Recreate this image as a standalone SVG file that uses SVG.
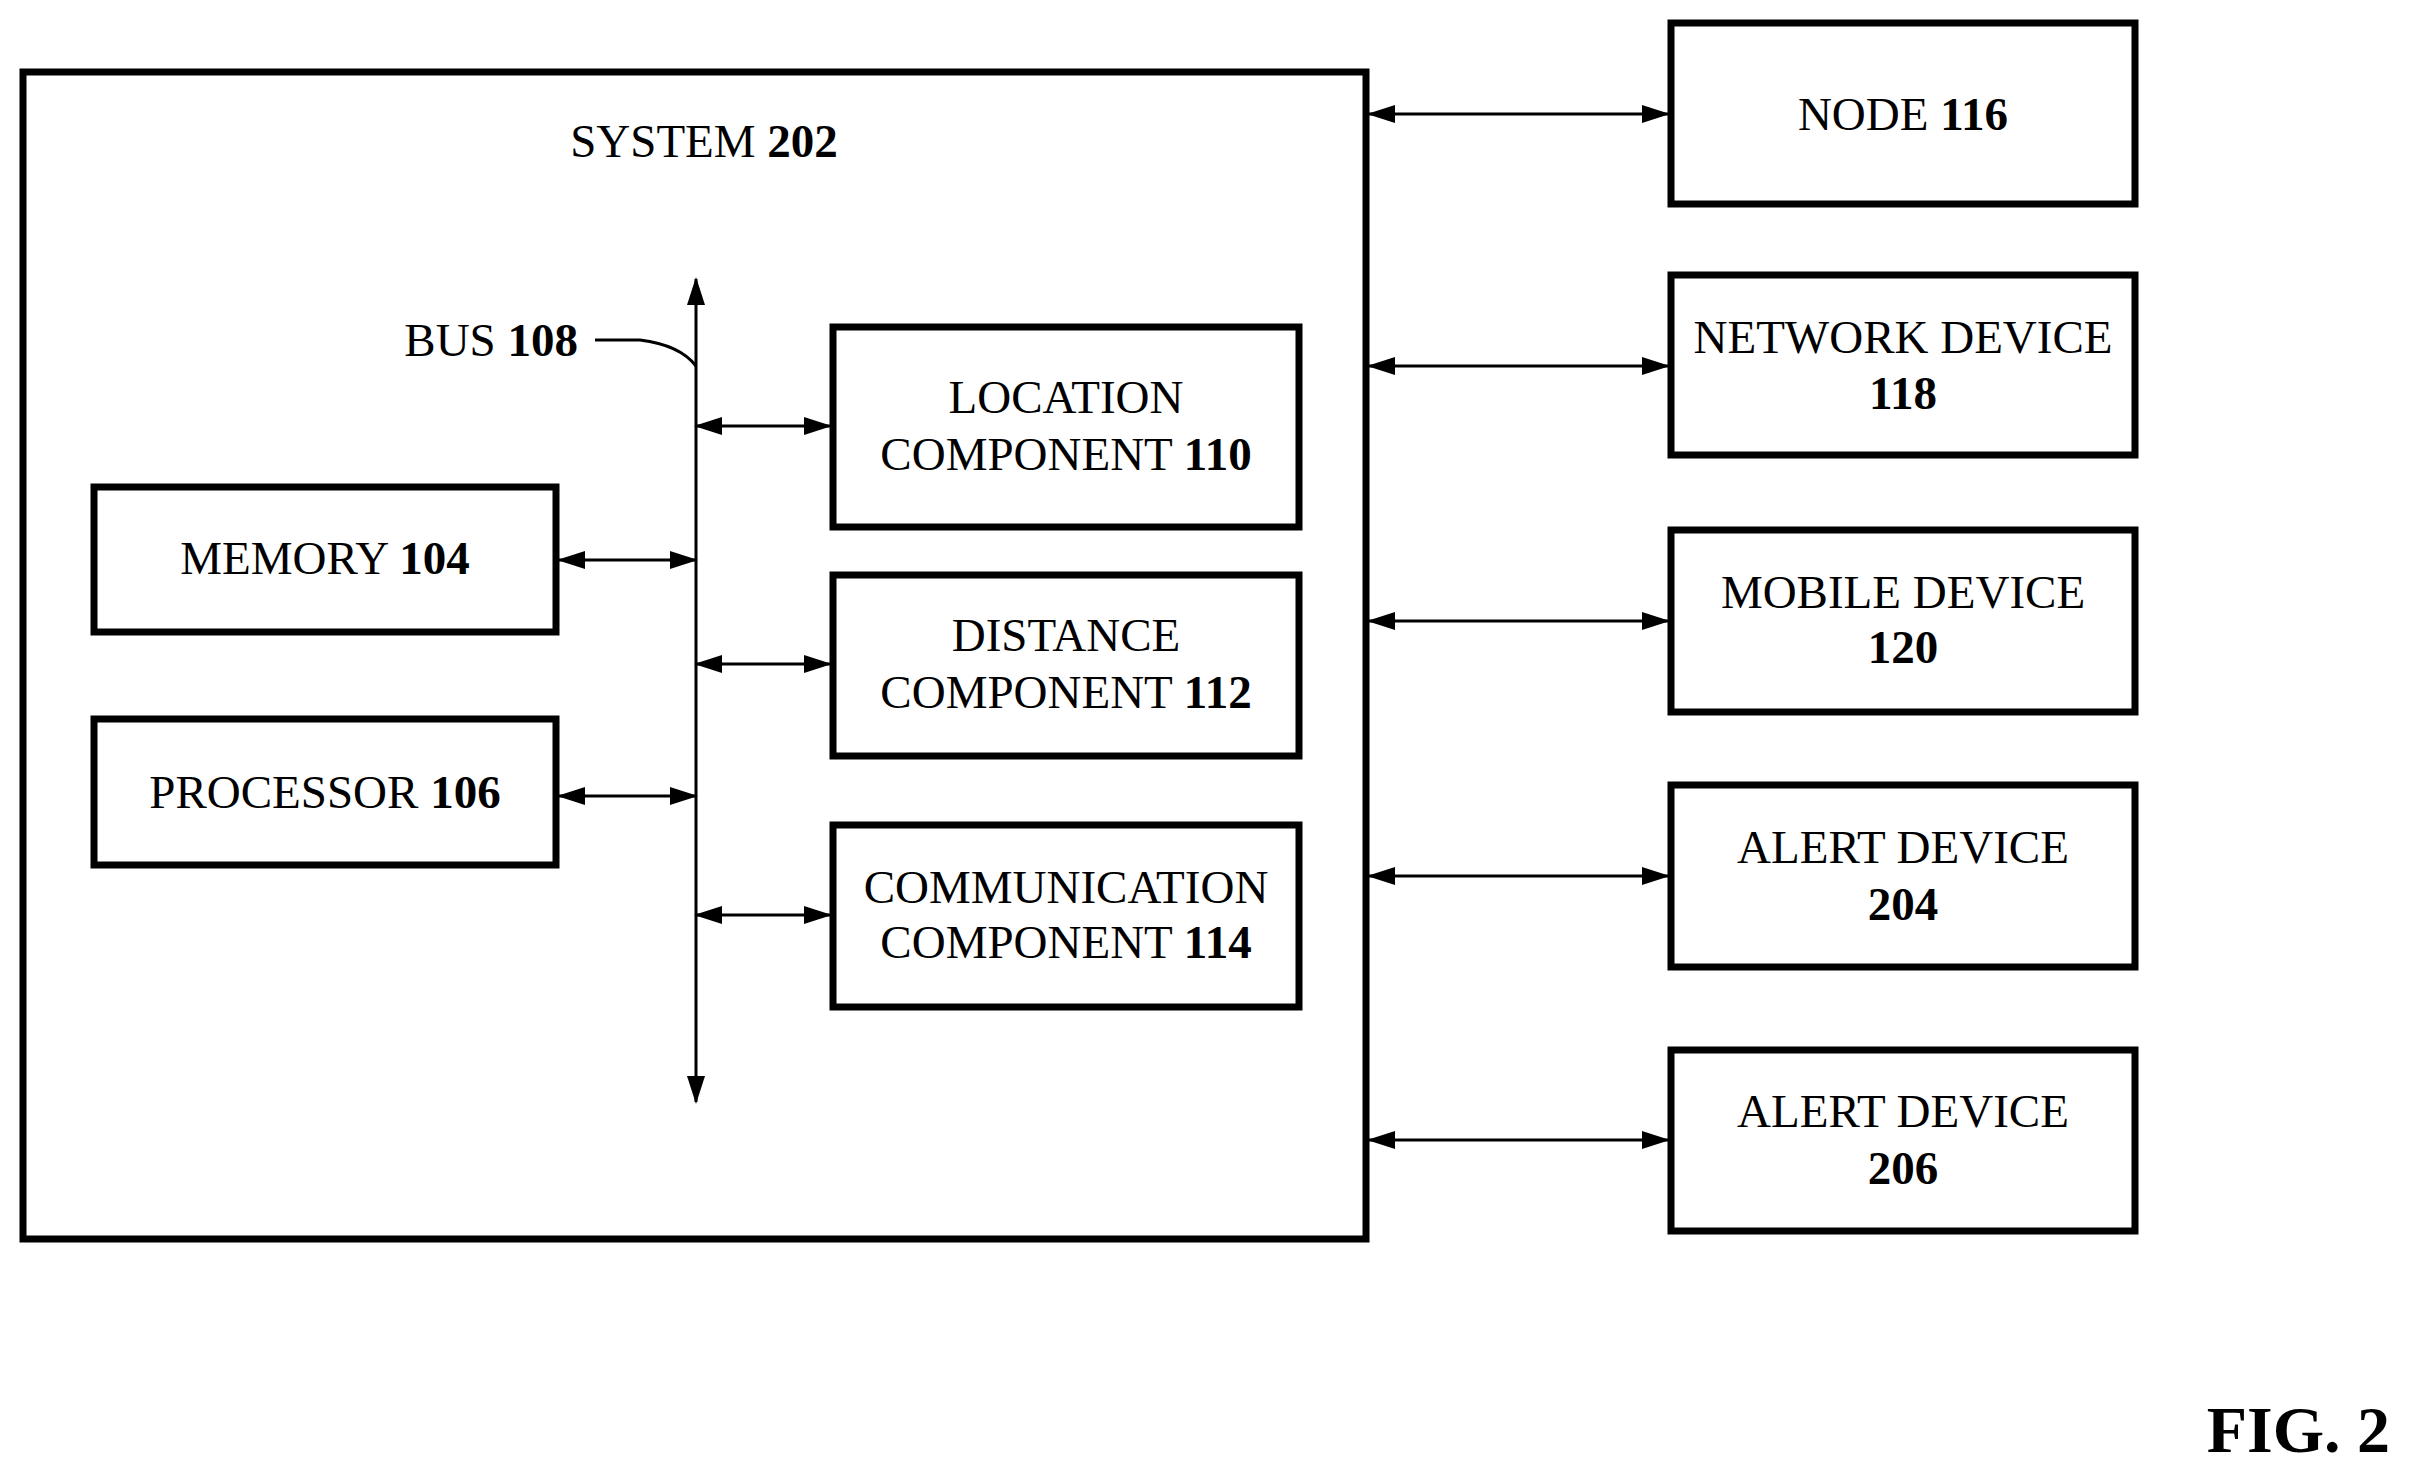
<svg xmlns="http://www.w3.org/2000/svg" width="2411" height="1475" viewBox="0 0 2411 1475">
<style>
.box{fill:#fff;stroke:#000;stroke-width:7}
.t{font-family:"Liberation Serif",serif;font-size:47px;text-anchor:middle;fill:#000}
.c{stroke:#000;stroke-width:3;fill:none}
</style>
<defs>
<marker id="a" markerUnits="userSpaceOnUse" markerWidth="28" markerHeight="18" refX="26" refY="9" orient="auto-start-reverse"><path d="M0,0 L28,9 L0,18 Z" fill="#000"/></marker>
</defs>
<rect width="2411" height="1475" fill="#fff"/>
<g id="system"><rect class="box" x="23" y="72" width="1343" height="1167"/>
<text class="t" x="704" y="157">SYSTEM <tspan font-weight="bold">202</tspan></text></g>
<g id="bus"><text class="t" x="578" y="356" style="text-anchor:end">BUS <tspan font-weight="bold">108</tspan></text></g>
<g id="location"><rect class="box" x="833" y="327" width="466" height="200"/>
<text class="t" x="1066" y="413">LOCATION</text><text class="t" x="1066" y="470">COMPONENT <tspan font-weight="bold">110</tspan></text></g>
<g id="distance"><rect class="box" x="833" y="575" width="466" height="181"/>
<text class="t" x="1066" y="651">DISTANCE</text><text class="t" x="1066" y="708">COMPONENT <tspan font-weight="bold">112</tspan></text></g>
<g id="communication"><rect class="box" x="833" y="825" width="466" height="182"/>
<text class="t" x="1066" y="903">COMMUNICATION</text><text class="t" x="1066" y="958">COMPONENT <tspan font-weight="bold">114</tspan></text></g>
<g id="memory"><rect class="box" x="94" y="487" width="462" height="145"/>
<text class="t" x="325" y="574">MEMORY <tspan font-weight="bold">104</tspan></text></g>
<g id="processor"><rect class="box" x="94" y="719" width="462" height="146"/>
<text class="t" x="325" y="808">PROCESSOR <tspan font-weight="bold">106</tspan></text></g>
<g id="node116"><rect class="box" x="1671" y="23" width="464" height="181"/>
<text class="t" x="1903" y="130">NODE  <tspan font-weight="bold">116</tspan></text></g>
<g id="network118"><rect class="box" x="1671" y="275" width="464" height="180"/>
<text class="t" x="1903" y="353">NETWORK DEVICE</text><text class="t" x="1903" y="409" font-weight="bold">118</text></g>
<g id="mobile120"><rect class="box" x="1671" y="530" width="464" height="182"/>
<text class="t" x="1903" y="608">MOBILE DEVICE</text><text class="t" x="1903" y="663" font-weight="bold">120</text></g>
<g id="alert204"><rect class="box" x="1671" y="785" width="464" height="182"/>
<text class="t" x="1903" y="863">ALERT DEVICE</text><text class="t" x="1903" y="920" font-weight="bold">204</text></g>
<g id="alert206"><rect class="box" x="1671" y="1050" width="464" height="181"/>
<text class="t" x="1903" y="1127">ALERT DEVICE</text><text class="t" x="1903" y="1184" font-weight="bold">206</text></g>
<g id="connectors">
<line class="c" x1="696" y1="279" x2="696" y2="1102" marker-start="url(#a)" marker-end="url(#a)"/>
<path class="c" d="M595,340 L640,340 Q680,345 696,366"/>
<line class="c" x1="559" y1="560" x2="696" y2="560" marker-start="url(#a)" marker-end="url(#a)"/>
<line class="c" x1="559" y1="796" x2="696" y2="796" marker-start="url(#a)" marker-end="url(#a)"/>
<line class="c" x1="696" y1="426" x2="830" y2="426" marker-start="url(#a)" marker-end="url(#a)"/>
<line class="c" x1="696" y1="664" x2="830" y2="664" marker-start="url(#a)" marker-end="url(#a)"/>
<line class="c" x1="696" y1="915" x2="830" y2="915" marker-start="url(#a)" marker-end="url(#a)"/>
<line class="c" x1="1369" y1="114" x2="1668" y2="114" marker-start="url(#a)" marker-end="url(#a)"/>
<line class="c" x1="1369" y1="366" x2="1668" y2="366" marker-start="url(#a)" marker-end="url(#a)"/>
<line class="c" x1="1369" y1="621" x2="1668" y2="621" marker-start="url(#a)" marker-end="url(#a)"/>
<line class="c" x1="1369" y1="876" x2="1668" y2="876" marker-start="url(#a)" marker-end="url(#a)"/>
<line class="c" x1="1369" y1="1140" x2="1668" y2="1140" marker-start="url(#a)" marker-end="url(#a)"/>
</g>
<text x="2390" y="1452" style="font-family:'Liberation Serif',serif;font-size:66px;font-weight:bold;text-anchor:end">FIG. 2</text>
</svg>
